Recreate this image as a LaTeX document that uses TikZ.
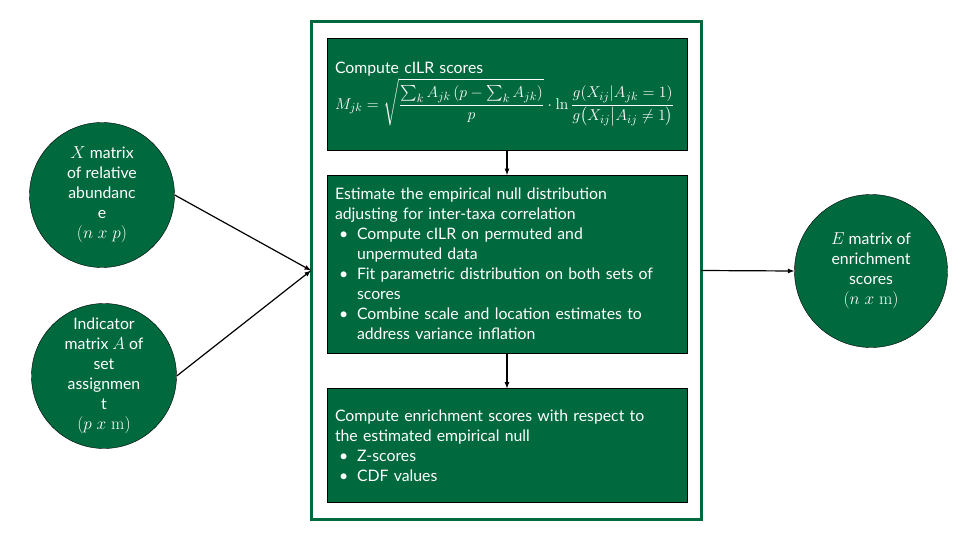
\documentclass[tikz,border=0pt]{standalone}
\usepackage{amsmath}
\usepackage[no-math]{fontspec}
\setmainfont{Lato}
\usetikzlibrary{positioning}
\definecolor{deepgreen}{RGB}{0,105,62}
\newcommand{\bitem}{\hspace*{4pt}\makebox[18pt][l]{\textbullet}}
\newcommand{\bcont}{\hspace*{22pt}}
\newcommand{\circmath}[1]{{\fontsize{17.5}{20}\selectfont$#1$}}
\tikzset{
    stepbox/.style={rectangle,draw=black,fill=deepgreen,text=white,text width=344pt,inner xsep=8pt,inner ysep=0pt,outer sep=0pt,align=left,font=\fontsize{15.8}{20}\selectfont},
    blob/.style={circle,draw=black,fill=deepgreen,text=white,minimum size=145pt,inner sep=0pt,align=center,font=\fontsize{15.8}{20}\selectfont}
}
\begin{document}
\begin{tikzpicture}[x=1pt,y=-1pt]
    \useasboundingbox (0,0) rectangle (960,540);
    % outer frame
    \node[rectangle,draw=deepgreen,line width=3pt,fill=white,minimum width=390pt,minimum height=497pt,inner sep=0pt,outer sep=0pt] (frame) at (506,270.5) {};
    \begin{scope}[every node/.style={stepbox}]
        \node[minimum height=112pt] (cilr) at (507,94) {Compute cILR scores\\[2pt]
            \scalebox{1.09}{$\displaystyle M_{jk}=\sqrt{\frac{\sum_k A_{jk}\,(p-\sum_k A_{jk})}{p}}\cdot\ln\frac{g(X_{ij}|A_{jk}=1)}{g\bigl(X_{ij}\big|A_{ij}\neq 1\bigr)}$}};
        \node[minimum height=178pt] (null) at (507,264) {Estimate the empirical null distribution\\
            adjusting for inter-taxa correlation\\
            \bitem Compute cILR on permuted and\\
            \bcont unpermuted data\\
            \bitem Fit parametric distribution on both sets of\\
            \bcont scores\\
            \bitem Combine scale and location estimates to\\
            \bcont address variance inflation};
        \node[minimum height=114pt] (enrich) at (507,445.5) {Compute enrichment scores with respect to\\
            the estimated empirical null\\
            \bitem Z-scores\\
            \bitem CDF values};
    \end{scope}
    \begin{scope}[every node/.style={blob}]
        \node (xmat) at (102,195) {\circmath{X} matrix\\of relative\\abundanc\\e\\\circmath{(n\;x\;p)}};
        \node (amat) at (104,376) {Indicator\\matrix \circmath{A} of\\set\\assignmen\\t\\\circmath{(p\;x\;\mathrm{m})}};
        \node[minimum size=153pt] (emat) at (871,271) {\circmath{E} matrix of\\enrichment\\scores\\\circmath{(n\;x\;\mathrm{m})}};
    \end{scope}
    \begin{scope}[-latex,line width=1.2pt]
        \draw (xmat.east) -- (frame.west);
        \draw (amat.east) -- (frame.west);
        \draw (frame.east) -- (emat.west);
        \draw (cilr.south) -- (null.north);
        \draw (null.south) -- (enrich.north);
    \end{scope}
\end{tikzpicture}
\end{document}
